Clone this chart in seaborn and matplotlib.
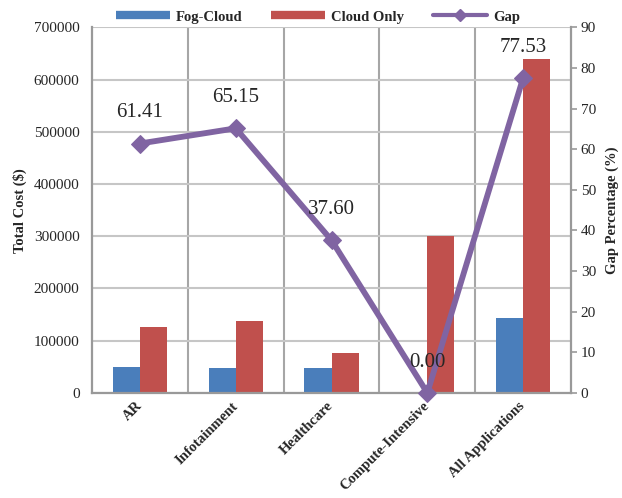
import numpy as np
import pandas as pd
import seaborn as sns
import matplotlib
matplotlib.use('Agg')
import matplotlib.pyplot as plt
from matplotlib.lines import Line2D

categories = ['AR', 'Infotainment', 'Healthcare', 'Compute-Intensive', 'All Applications']
fog_cloud = [49000, 47800, 47200, 0, 143000]
cloud_only = [126800, 137000, 75900, 301000, 640000]
gap_pct = [61.41, 65.15, 37.60, 0.00, 77.53]

sns.set_style('white')
plt.rcParams['font.family'] = ['Liberation Serif', 'DejaVu Serif']

long = pd.DataFrame({
    'category': categories * 2,
    'cost': fog_cloud + cloud_only,
    'series': ['Fog-Cloud'] * 5 + ['Cloud Only'] * 5,
})

fig = plt.figure(figsize=(6.22, 4.98), dpi=100)
ax = fig.add_axes([0.148, 0.211, 0.770, 0.734])

sns.barplot(data=long, x='category', y='cost', hue='series', ax=ax,
            palette=['#4a7ebb', '#c0504d'], width=0.565, saturation=1,
            edgecolor='none', legend=False)

ax.set_xlim(-0.5, 4.5)
ax.set_ylim(0, 700000)
ax.set_yticks(np.arange(0, 700001, 100000))
ax.set_yticklabels([str(v) for v in range(0, 700001, 100000)], fontsize=11)
ax.tick_params(axis='y', length=0, pad=9)
ax.tick_params(axis='x', length=0, pad=8)
ax.set_xticks(range(5))
ax.set_xticklabels(categories, rotation=45, ha='right', va='center',
                   rotation_mode='anchor', fontsize=10.5, fontweight='bold')
ax.set_xlabel('')
ax.set_ylabel('Total Cost ($)', fontsize=10.5, fontweight='bold', labelpad=5)

# grid: horizontal at each 100000, vertical between categories
ax.set_xticks(np.arange(0.5, 4.5, 1), minor=True)
ax.tick_params(axis='x', which='minor', length=0)
ax.grid(axis='y', which='major', color='#c6c6c6', lw=1.5)
ax.grid(axis='x', which='minor', color='#a6a6a6', lw=1.5)
ax.grid(axis='x', which='major', visible=False)
ax.set_axisbelow(True)
for s in ['left', 'right', 'bottom']:
    ax.spines[s].set_color('#999999')
    ax.spines[s].set_linewidth(1.6)
ax.spines['top'].set_visible(False)

ax2 = ax.twinx()
sns.lineplot(x=np.arange(5), y=gap_pct, ax=ax2, color='#8064a2', lw=4.2,
             marker='D', markersize=9, markeredgecolor='#8064a2', clip_on=False)
ax2.set_ylim(0, 90)
ax2.set_yticks(np.arange(0, 91, 10))
ax2.set_yticklabels([str(v) for v in range(0, 91, 10)], fontsize=11)
ax2.tick_params(axis='y', length=4, width=1.2, color='#999999', pad=3)
ax2.set_ylabel('Gap Percentage (%)', fontsize=10.5, fontweight='bold', labelpad=7)
for s in ['left', 'right', 'bottom', 'top']:
    ax2.spines[s].set_visible(False)

for i, g in enumerate(gap_pct):
    ax2.annotate(f'{g:.2f}', (i, g), xytext=(0, 22), textcoords='offset points',
                 ha='center', va='center', fontsize=15)

handles = [Line2D([], [], color='#4a7ebb', lw=6, solid_capstyle='butt'),
           Line2D([], [], color='#c0504d', lw=6, solid_capstyle='butt'),
           Line2D([], [], color='#8064a2', lw=3, marker='D', markersize=6)]
fig.legend(handles, ['Fog-Cloud', 'Cloud Only', 'Gap'], loc='center',
           bbox_to_anchor=(0.511, 0.966), ncol=3, frameon=False,
           prop={'weight': 'bold', 'size': 10.5}, handlelength=3.7,
           columnspacing=2.0, handletextpad=0.4)

fig.savefig('out.png', dpi=100)
